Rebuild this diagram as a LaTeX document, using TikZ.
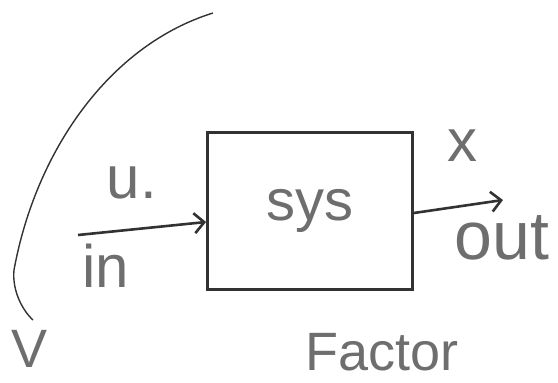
\documentclass[tikz,border=0pt]{standalone}
\usepackage{fontspec}
\setmainfont{Liberation Sans}
\definecolor{InkColor}{RGB}{50,50,50}
\definecolor{PencilColor}{RGB}{110,110,110}
\usetikzlibrary{arrows.meta}
\tikzset{
    block/.style={
        draw=InkColor,
        line width=2.8pt,
        minimum width=205pt,
        minimum height=157pt,
        text=PencilColor,
        font=\fontsize{58}{58}\selectfont
    },
    tag/.style={text=PencilColor, inner sep=0pt, font=\fontsize{60}{60}\selectfont},
    arrow/.style={-{Straight Barb[length=10pt,width=20pt]}, line width=2.6pt, draw=InkColor},
    stroke/.style={line width=1.4pt, draw=InkColor}
}

\begin{document}
\begin{tikzpicture}[x=1pt,y=-1pt]
        \useasboundingbox (0,0) rectangle (558,383);
        
        \node[block] (sys) at (310,211) {\raisebox{-8pt}{sys}};
        
        \coordinate (src) at (78,235);
        \coordinate (snk) at (503,200);
        \draw[arrow] (src) -- (sys.west |- 0,222);
        \draw[arrow] (sys.east |- 0,213) -- (snk);
        
        \node[tag] (u) at (132,183) {u.};
        \node[tag] (in) at (106,266) {in};
        \node[tag] (x) at (462,146) {x};
        \node[tag, font=\fontsize{68}{68}\selectfont] (out) at (502,238) {out};
        
        % curved stroke down the left side
        \coordinate (ctop) at (213,13);
        \coordinate (cmid) at (14,270);
        \coordinate (cbot) at (33,320);
        \draw[stroke] (ctop) .. controls (110,45) and (36,150) .. (cmid) .. controls (12,290) and (22,310) .. (cbot);
        
        \node[tag, font=\fontsize{54}{54}\selectfont] (v) at (30,349) {V};
        \node[tag, anchor=base west, font=\fontsize{54}{54}\selectfont] (factor) at (305,370) {Factor};
        
\end{tikzpicture}
\end{document}
